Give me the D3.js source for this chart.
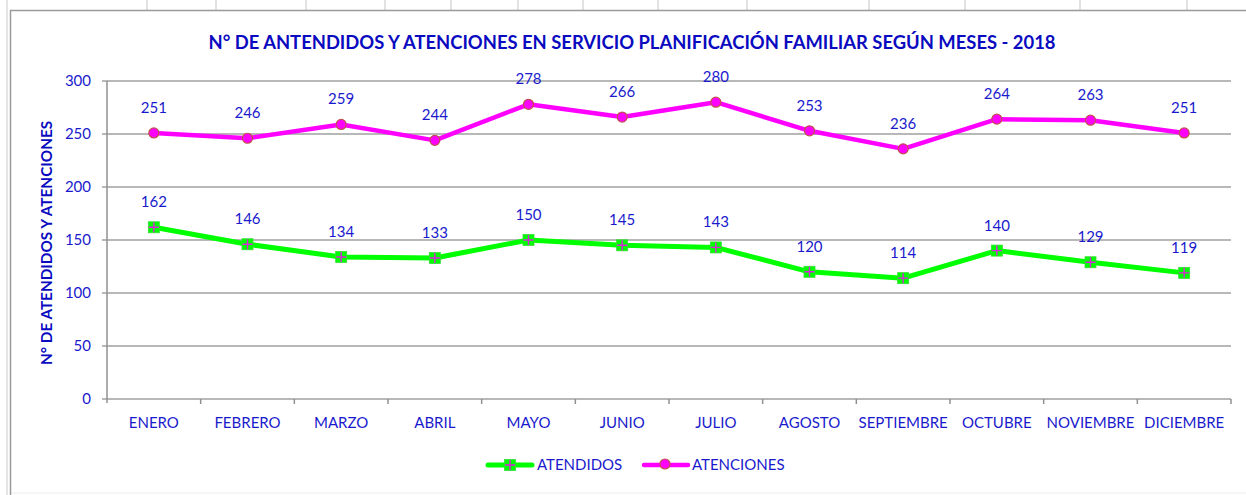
<!DOCTYPE html>
<html><head><meta charset="utf-8">
<script src="https://cdn.jsdelivr.net/npm/d3@7"></script>
<style>body{margin:0;background:#fff}svg{display:block}</style>
</head><body>
<svg id="c" width="1246" height="495"></svg>
<script>
const months = ["ENERO","FEBRERO","MARZO","ABRIL","MAYO","JUNIO","JULIO","AGOSTO","SEPTIEMBRE","OCTUBRE","NOVIEMBRE","DICIEMBRE"];
const atendidos = [162,146,134,133,150,145,143,120,114,140,129,119];
const atenciones = [251,246,259,244,278,266,280,253,236,264,263,251];
const yTicks = [0,50,100,150,200,250,300];
const sheetCols = [147,216,306,385,451,518,583,658,747,869,965,1080,1187];

const svg = d3.select("#c");
const font = "Lato, 'Open Sans', sans-serif";
const blue = "#1a1acd";
const titleBlue = "#0a0ac0";

// spreadsheet background lines
svg.selectAll(".sc").data(sheetCols).join("line")
  .attr("x1",d=>d).attr("x2",d=>d).attr("y1",0).attr("y2",10)
  .attr("stroke","#d9d9d9").attr("stroke-width",1.5);
svg.append("line").attr("x1",7).attr("x2",7).attr("y1",0).attr("y2",495).attr("stroke","#dcdcdc").attr("stroke-width",1.5);
svg.append("line").attr("x1",10).attr("x2",1246).attr("y1",493).attr("y2",493).attr("stroke","#ececec");
// chart frame
svg.append("path").attr("d","M10.5,495 V10.5 H1246").attr("fill","none").attr("stroke","#9a9a9a").attr("stroke-width",1.5);

const m = {l:107, r:1231, t:81, b:399};
const x = d3.scaleBand().domain(months).range([m.l,m.r]);
const y = d3.scaleLinear().domain([0,300]).range([m.b,m.t]);
const cx = d => x(d)+x.bandwidth()/2;

// gridlines
svg.append("g").selectAll("line").data(yTicks).join("line")
  .attr("x1",m.l-5).attr("x2",m.r).attr("y1",d=>y(d)).attr("y2",d=>y(d))
  .attr("stroke","#a0a0a0").attr("stroke-width",1.5);
// y axis line
svg.append("line").attr("x1",m.l).attr("x2",m.l).attr("y1",m.t).attr("y2",m.b+4).attr("stroke","#909090").attr("stroke-width",1.5);
// x ticks between categories
const bounds = months.map(d=>x(d)).concat([m.r]);
svg.append("g").selectAll("line").data(bounds.slice(1)).join("line")
  .attr("x1",d=>d).attr("x2",d=>d).attr("y1",m.b).attr("y2",m.b+5)
  .attr("stroke","#909090").attr("stroke-width",1.5);

// y labels
svg.append("g").selectAll("text").data(yTicks).join("text")
  .attr("x",91).attr("y",d=>y(d)+5).attr("text-anchor","end")
  .attr("font-family",font).attr("font-size",15).attr("fill",blue).text(d=>d);
// x labels
svg.append("g").selectAll("text").data(months).join("text")
  .attr("x",d=>cx(d)).attr("y",428).attr("text-anchor","middle")
  .attr("font-family",font).attr("font-size",15).attr("fill",blue).text(d=>d);

// title
svg.append("text").attr("x",632).attr("y",49).attr("text-anchor","middle")
  .attr("font-family",font).attr("font-weight","bold").attr("font-size",18.4).attr("fill",titleBlue)
  .text("N° DE ANTENDIDOS Y ATENCIONES EN SERVICIO PLANIFICACIÓN FAMILIAR SEGÚN MESES - 2018");
// y title
svg.append("text").attr("transform","translate(52,243) rotate(-90)").attr("text-anchor","middle")
  .attr("font-family",font).attr("font-weight","bold").attr("font-size",15.3).attr("fill",titleBlue)
  .text("N° DE ATENDIDOS Y ATENCIONES");

const line = d3.line().x((d,i)=>cx(months[i])).y(d=>y(d));
svg.append("path").datum(atenciones).attr("d",line).attr("fill","none").attr("stroke","#ff00ff").attr("stroke-width",4.5).attr("stroke-linejoin","round");
svg.append("path").datum(atendidos).attr("d",line).attr("fill","none").attr("stroke","#00ff00").attr("stroke-width",5).attr("stroke-linejoin","round");

function circleMarker(g, px, py){
  g.append("circle").attr("cx",px).attr("cy",py).attr("r",5).attr("fill","#ff00ff").attr("stroke","#c0504d").attr("stroke-width",1.2);
}
function squareMarker(g, px, py){
  g.append("rect").attr("x",px-5.5).attr("y",py-5.5).attr("width",11).attr("height",11).attr("fill","#00ff00").attr("stroke","#33dd33").attr("stroke-width",0.8);
  g.append("path").attr("d",`M${px-5},${py} H${px+5} M${px},${py-5} V${py+5}`).attr("stroke","#e020e0").attr("stroke-width",1.4);
}
const mk = svg.append("g");
atenciones.forEach((v,i)=>circleMarker(mk,cx(months[i]),y(v)));
atendidos.forEach((v,i)=>squareMarker(mk,cx(months[i]),y(v)));

// data labels
const lab = svg.append("g").attr("font-family",font).attr("font-size",15).attr("fill",blue).attr("text-anchor","middle");
atenciones.forEach((v,i)=>lab.append("text").attr("x",cx(months[i])).attr("y",y(v)-20).text(v));
atendidos.forEach((v,i)=>lab.append("text").attr("x",cx(months[i])).attr("y",y(v)-20).text(v));

// legend
const lg = svg.append("g");
lg.append("line").attr("x1",488).attr("x2",532).attr("y1",465).attr("y2",465).attr("stroke","#00ff00").attr("stroke-width",5).attr("stroke-linecap","round");
squareMarker(lg,510,465);
lg.append("text").attr("x",537).attr("y",470).attr("font-family",font).attr("font-size",15).attr("fill",blue).text("ATENDIDOS");
lg.append("line").attr("x1",644).attr("x2",688).attr("y1",465).attr("y2",465).attr("stroke","#ff00ff").attr("stroke-width",4.5).attr("stroke-linecap","round");
circleMarker(lg,665,464);
lg.append("text").attr("x",692).attr("y",470).attr("font-family",font).attr("font-size",15).attr("fill",blue).text("ATENCIONES");
</script>
</body></html>
